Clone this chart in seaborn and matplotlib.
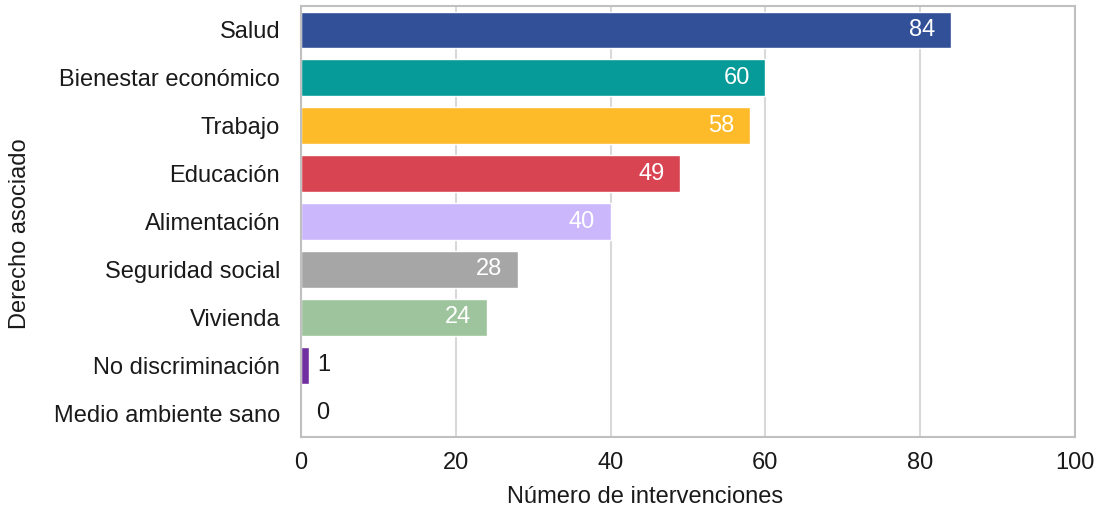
import matplotlib
matplotlib.use("Agg")
import matplotlib.pyplot as plt
import seaborn as sns
import pandas as pd

categories = ["Salud", "Bienestar económico", "Trabajo", "Educación", "Alimentación",
              "Seguridad social", "Vivienda", "No discriminación", "Medio ambiente sano"]
values = [84, 60, 58, 49, 40, 28, 24, 1, 0]
colors = ["#315098", "#069b98", "#fdba29", "#d94452", "#cbb7fc",
          "#a6a6a6", "#9dc49c", "#7030a0", "#5b5b5b"]
xticks = [0, 20, 40, 60, 80, 100]

sns.set_theme(style="white")
plt.rcParams['font.family'] = ['Liberation Sans', 'DejaVu Sans']

FS = 17
df = pd.DataFrame({"cat": categories, "val": values})
fig = plt.figure(figsize=(11.01, 5.14), dpi=100)
ax = fig.add_axes([301/1101, 1-437/514, (1075-301)/1101, (437-6)/514])

sns.barplot(data=df, x="val", y="cat", hue="cat", palette=colors, legend=False,
            width=0.77, ax=ax, orient="h", saturation=1)

ax.set_xlim(0, 100)
ax.set_xticks(xticks)
ax.set_xticklabels([str(t) for t in xticks], fontsize=FS, color="#1a1a1a")
ax.tick_params(axis="y", labelsize=FS, labelcolor="#1a1a1a", length=0, pad=15)
ax.tick_params(axis="x", length=0, pad=11)
ax.grid(axis="x", color="#d9d9d9", linewidth=1.5)
ax.set_axisbelow(True)
for s in ax.spines.values():
    s.set_color("#c0c0c0")
    s.set_linewidth(1.5)
ax.set_xlabel("Número de intervenciones", fontsize=FS, color="#1a1a1a")
ax.set_ylabel("Derecho asociado", fontsize=FS, color="#1a1a1a")
ax.xaxis.set_label_coords(0.444, -0.139)
ax.yaxis.set_label_coords(-0.363, 0.471)
ax.xaxis.label.set_va("center")
ax.yaxis.label.set_va("center")

for i, v in enumerate(values):
    if v >= 10:
        ax.text(v - 2, i, str(v), ha="right", va="center", color="white", fontsize=FS)
    else:
        ax.text(max(v + 1.1, 2.0), i, str(v), ha="left", va="center", color="#1a1a1a", fontsize=FS)

fig.savefig("out.png", dpi=100)
